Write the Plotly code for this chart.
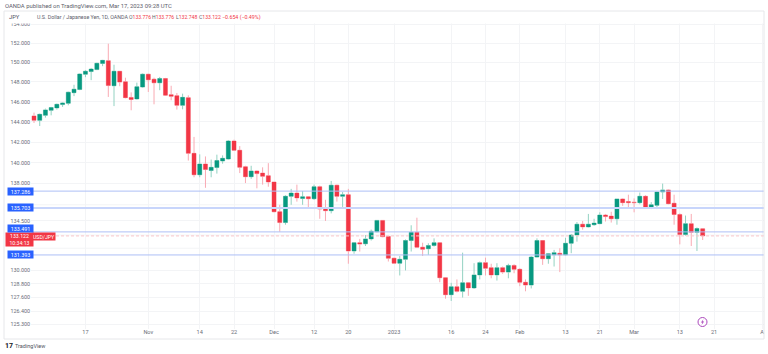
import math
import plotly.graph_objects as go

bar_index = list(range(118))
opens = [144.57,144.13,144.63,145.13,145.37,145.70,145.83,146.90,147.22,148.78,149.05,149.25,149.88,150.17,147.60,149.08,148.00,146.42,146.27,147.47,
148.78,148.27,147.90,148.33,146.70,146.60,145.63,146.40,140.90,138.84,139.87,139.25,139.53,140.16,140.35,142.10,141.20,139.60,138.65,139.20,
139.00,138.75,138.15,135.35,134.35,136.80,137.10,136.60,136.75,136.57,137.70,135.60,135.45,137.85,136.80,136.95,131.75,132.50,132.40,132.85,
133.50,134.55,133.08,131.10,130.65,131.00,132.70,133.45,132.10,131.95,132.25,132.50,129.35,127.85,128.55,128.15,128.90,128.45,129.60,130.70,
130.25,129.60,130.25,129.85,130.45,130.10,128.95,128.70,131.20,132.70,131.05,131.40,131.55,131.40,132.45,133.20,134.20,133.95,134.15,134.25,
135.05,134.95,134.70,136.55,136.30,136.25,136.20,136.80,135.80,135.95,137.20,137.40,136.15,135.10,133.25,134.25,133.45,133.776]
closes = [144.13,144.73,145.17,145.40,145.73,145.87,146.95,147.25,148.80,149.08,149.30,149.90,150.20,147.62,149.08,147.97,146.40,146.22,147.50,148.78,
148.20,147.90,148.33,146.65,146.53,145.63,146.43,140.90,138.84,139.87,139.35,139.55,140.20,140.42,142.10,141.20,139.55,138.65,139.20,138.95,
138.70,138.15,135.35,134.35,136.80,137.10,136.65,136.75,136.57,137.70,135.60,135.45,137.85,136.80,136.95,131.75,132.50,132.38,132.85,133.55,
134.55,133.05,131.10,130.65,131.00,132.70,133.45,132.10,131.90,132.25,132.50,129.35,127.85,128.55,128.15,128.90,128.45,129.60,130.70,130.20,
129.60,130.25,129.85,130.45,130.10,128.95,128.70,131.20,132.70,131.05,131.50,131.60,131.40,132.45,133.20,134.20,133.95,134.20,134.30,135.05,
134.90,134.70,136.55,136.20,136.20,136.20,136.80,135.80,136.00,137.20,137.40,136.10,135.10,133.25,134.25,133.45,133.80,133.122]
highs = [144.90,144.80,145.30,145.47,145.80,145.93,147.00,147.70,148.85,149.20,149.42,149.95,150.25,151.93,149.75,149.10,148.42,146.93,147.92,148.85,
148.82,148.42,148.50,148.40,147.60,146.87,146.80,146.63,142.50,140.80,140.60,140.30,140.77,140.70,142.20,142.23,141.60,139.70,139.70,139.25,
139.55,139.95,138.15,136.00,136.90,137.50,137.90,137.30,136.80,137.90,137.80,136.47,138.25,137.90,137.20,137.50,132.55,132.85,133.20,133.70,
134.55,134.55,133.10,131.15,131.30,132.80,134.10,134.80,132.50,132.45,132.90,132.50,129.40,128.90,129.20,131.60,128.95,130.65,130.80,131.15,
130.60,130.65,130.35,130.60,130.55,130.20,129.20,131.30,132.90,132.75,131.55,131.85,132.00,132.95,133.30,134.40,134.50,135.15,134.70,135.30,
135.15,135.35,136.55,136.60,136.95,136.60,137.15,136.90,136.25,137.25,138.00,137.45,136.95,135.20,135.00,135.15,133.90,133.776]
lows = [143.87,143.57,144.40,144.63,145.20,145.47,145.63,146.55,147.15,148.47,148.17,149.20,149.60,146.47,145.55,147.55,146.33,145.13,146.20,147.40,
146.97,145.73,147.15,146.57,146.13,145.20,145.23,140.20,138.60,138.60,137.60,138.60,138.95,139.90,140.30,141.15,139.00,138.05,138.45,137.55,
137.90,137.70,135.30,133.50,134.15,136.00,136.30,136.00,135.65,136.45,134.70,134.50,135.20,136.30,135.80,130.60,131.50,131.70,132.20,132.70,
133.45,133.00,130.80,130.60,129.55,130.00,131.70,132.05,131.30,131.40,132.15,128.95,127.50,127.30,128.05,127.60,127.75,128.35,129.20,129.55,
129.30,129.10,129.70,129.30,129.75,128.60,128.15,128.40,131.15,130.50,130.60,130.35,129.85,131.35,131.55,132.60,133.70,133.90,134.05,134.20,
134.45,134.35,134.15,135.90,135.70,135.30,136.05,135.75,135.60,135.60,136.55,136.05,134.15,132.35,133.15,132.20,131.75,132.748]

price_ticks = [154,152,150,148,146,144,142,140,138,134.5,130,128.8,127.6,126.4,125.3]
grid_only_ticks = [136,133.2,132]
time_tick_index = [9,20,29,35,42,49,55,63,73,79,85,93,99,105,113,119,127.4]
time_tick_labels = ["17","Nov","14","22","Dec","12","20","2023","16","24","Feb","13","21","Mar","13","21","A"]
levels = [137.286,135.703,133.491,131.393]
level_label_shift = [0,0,3,0]
last_price = 133.122
quote_labels = ["O","H","L","C"]
quote_values = ["133.776","133.776","132.748","133.122"]
quote_x = [127.5,150.5,174.5,198]

W,H = 768,354
L,R,T,B = 31,4,21,25
def px(x): return (x-L)/(W-L-R)
def py(y): return 1-(y-T)/(H-T-B)
FONT = "Roboto, Liberation Sans, sans-serif"
RED,GREEN = "#f23645","#089981"

fig = go.Figure(go.Candlestick(
    x=bar_index, open=opens, high=highs, low=lows, close=closes,
    increasing=dict(line=dict(color="#93d2c2",width=1),fillcolor=GREEN),
    decreasing=dict(line=dict(color="#f9aab3",width=1),fillcolor=RED),
    whiskerwidth=0, hoverinfo="skip", showlegend=False))
fig.add_trace(go.Candlestick(
    x=bar_index, open=opens, close=closes,
    high=[max(o,c) for o,c in zip(opens,closes)], low=[min(o,c) for o,c in zip(opens,closes)],
    increasing=dict(line=dict(color=GREEN,width=0),fillcolor=GREEN),
    decreasing=dict(line=dict(color=RED,width=0),fillcolor=RED),
    whiskerwidth=0, hoverinfo="skip", showlegend=False))

shapes = []
for i,lv in enumerate(levels):
    shapes.append(dict(type="line",xref="paper",yref="y",x0=0,x1=1,y0=lv,y1=lv,layer="above",
        line=dict(color="#c8d5fb" if i==1 else "#aebff6",width=2.2 if i==1 else 1)))
shapes.append(dict(type="line",xref="paper",yref="y",x0=0,x1=1,y0=last_price,y1=last_price,layer="above",
    line=dict(color="#f9c4c9",width=1,dash="3px,2px")))
for v in grid_only_ticks:
    shapes.append(dict(type="line",xref="paper",yref="y",x0=0,x1=1,y0=v,y1=v,layer="below",
        line=dict(color="#f3f4f6",width=1)))
shapes.append(dict(type="rect",xref="paper",yref="paper",x0=px(4),x1=px(764),y0=py(23.5),y1=py(11),
    fillcolor="white",line=dict(width=0),layer="above"))
shapes.append(dict(type="rect",xref="paper",yref="paper",x0=px(4),x1=px(764),y0=py(339),y1=py(11),
    fillcolor="rgba(0,0,0,0)",line=dict(color="#e6e7ea",width=1),layer="above"))
shapes.append(dict(type="circle",xref="paper",yref="paper",x0=px(698),x1=px(707),y0=py(326.5),y1=py(317.5),
    fillcolor="white",line=dict(color="#ab47bc",width=1),layer="above"))
bolt = [(703.4,319.2),(700.9,322.6),(702.4,322.6),(701.6,325),(704.1,321.6),(702.6,321.6)]
shapes.append(dict(type="path",xref="paper",yref="paper",layer="above",fillcolor="#ab47bc",line=dict(width=0),
    path="M "+" L ".join(f"{px(a):.5f},{py(b):.5f}" for a,b in bolt)+" Z"))

def note(text,x,y,color="#50535e",size=5.5,xanchor="left",bg=None,yref="paper",w=None,h=None,yshift=0):
    return dict(text=text,x=px(x),y=(y if yref=="y" else py(y)),xref="paper",yref=yref,showarrow=False,
        xanchor=xanchor,yanchor="middle",align="center" if w else "left",bgcolor=bg,borderpad=0,width=w,height=h,yshift=yshift,
        font=dict(family=FONT,size=size,color=color))

anns = [
    note("OANDA published on TradingView.com, Mar 17, 2023 09:28 UTC",4,6,color="#5d606b",size=5.9),
    note("JPY",8,17,color="#50535e",size=5.8),
    note("U.S. Dollar / Japanese Yen, 1D, OANDA",36,17.5,color="#5d606b",size=5.3),
    note("−0.654 (−0.49%)",221,17.5,color=RED,size=5.3),
    note("<b>17</b>",4,346,color="#131722",size=7),
    note("TradingView",14,346,color="#50535e",size=5.5),
    note("133.122<br>10:34:13",19.3,239,color="white",size=5.2,xanchor="center",bg=RED,w=27,h=13),
    note("USD/JPY",44,236.2,color="white",size=5.2,xanchor="center",bg=RED,w=22,h=7),
]
for lab,val,xq in zip(quote_labels,quote_values,quote_x):
    anns.append(note(f"{lab}<span style='color:{RED}'>{val}</span>",xq,17.5,color="#5d606b",size=5.1))
for lv,sh in zip(levels,level_label_shift):
    anns.append(note(f"{lv:.3f}",20.3,math.log10(lv),color="white",size=5.4,xanchor="center",bg="#2962ff",yref="y",w=25,h=7,yshift=sh))

fig.update_layout(
    width=W,height=H,margin=dict(l=L,r=R,t=T,b=B,autoexpand=False),
    paper_bgcolor="white",plot_bgcolor="white",shapes=shapes,annotations=anns,showlegend=False,
    boxmode="overlay",boxgap=0.3,boxgroupgap=0,
    font=dict(family=FONT,size=5.5,color="#6a6d78"),
    xaxis=dict(type="linear",range=[-0.525,127.73],tickmode="array",tickvals=time_tick_index,ticktext=time_tick_labels,
        rangeslider=dict(visible=False),showgrid=True,gridcolor="#f3f4f6",gridwidth=1,zeroline=False,showline=False,ticks="",
        tickfont=dict(size=5.6,color="#6a6d78"),ticklabelstandoff=-2),
    yaxis=dict(type="log",range=[math.log10(124.87),math.log10(154.32)],tickmode="array",tickvals=price_ticks,
        ticktext=[f"{v:.3f}" for v in price_ticks],showgrid=True,gridcolor="#f3f4f6",gridwidth=1,zeroline=False,showline=False,ticks="",
        tickfont=dict(size=5.4,color="#6a6d78")),
)
fig.write_html("out.html",config=dict(displayModeBar=False),post_script="document.body.style.margin='0';document.documentElement.style.overflow='hidden';")
